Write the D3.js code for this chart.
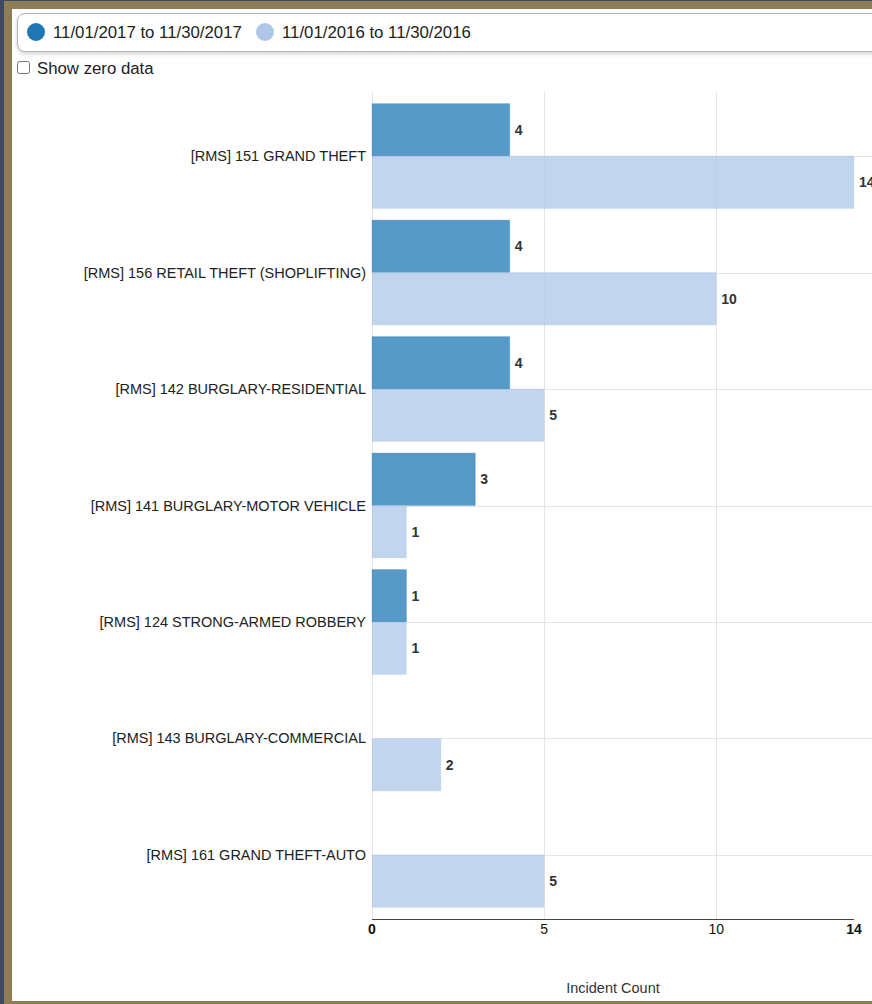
<!DOCTYPE html>
<html>
<head>
<meta charset="utf-8">
<script src="https://cdn.jsdelivr.net/npm/d3@7"></script>
<style>
  html, body { margin: 0; padding: 0; background: #fff; overflow: hidden; }
  body { width: 872px; height: 1004px; position: relative; font-family: "Liberation Sans", Arial, sans-serif; }
  #legendBox {
    position: absolute; left: 17px; top: 13px; width: 900px; height: 37px;
    border: 1px solid #b4b4b4; border-radius: 8px; background: #fff;
    box-shadow: 0 2px 4px rgba(0,0,0,0.18);
  }
  #zero { position: absolute; left: 17px; top: 61px; margin: 0; width: 13px; height: 13px; }
  #zeroLabel { position: absolute; left: 37px; top: 59px; font-size: 16.8px; color: #222; line-height: 20px; }
  svg { position: absolute; left: 0; top: 0; }
</style>
</head>
<body>
<div id="legendBox"></div>
<input type="checkbox" id="zero"><label id="zeroLabel" for="zero">Show zero data</label>
<svg id="chart" width="872" height="1004"></svg>
<script>
// ---- data ----
const categories = [
  "[RMS] 151 GRAND THEFT",
  "[RMS] 156 RETAIL THEFT (SHOPLIFTING)",
  "[RMS] 142 BURGLARY-RESIDENTIAL",
  "[RMS] 141 BURGLARY-MOTOR VEHICLE",
  "[RMS] 124 STRONG-ARMED ROBBERY",
  "[RMS] 143 BURGLARY-COMMERCIAL",
  "[RMS] 161 GRAND THEFT-AUTO"
];
const seriesNames = ["11/01/2017 to 11/30/2017", "11/01/2016 to 11/30/2016"];
const seriesColors = ["#1f77b4", "#aec7e8"];
const current2017 = [4, 4, 4, 3, 1, 0, 0];
const previous2016 = [14, 10, 5, 1, 1, 2, 5];
const xTickValues = [0, 5, 10];
const xMax = 14;
const xAxisTitle = "Incident Count";

const seriesValues = [current2017, previous2016];

const svg = d3.select("#chart");

// ---- frame ----
svg.append("rect").attr("x", 0).attr("y", 0).attr("width", 4).attr("height", 1004).attr("fill", "#3d4b62");
svg.append("rect").attr("x", 0).attr("y", 0).attr("width", 872).attr("height", 1).attr("fill", "#3d4b62");
svg.append("rect").attr("x", 4).attr("y", 1).attr("width", 8).attr("height", 1003).attr("fill", "#8e7c54");
svg.append("rect").attr("x", 4).attr("y", 1).attr("width", 868).attr("height", 8).attr("fill", "#8e7c54");
svg.append("rect").attr("x", 4).attr("y", 1001).attr("width", 868).attr("height", 3).attr("fill", "#8e7c54");

// ---- legend ----
const legend = svg.append("g");
const legX = [36, 265];
seriesNames.forEach((name, i) => {
  legend.append("circle").attr("cx", legX[i]).attr("cy", 32).attr("r", 9)
    .attr("fill", seriesColors[i]);
  legend.append("text").attr("x", legX[i] + 17).attr("y", 38)
    .attr("font-size", "16.8px").attr("fill", "#222").text(name);
});

// ---- scales ----
const x = d3.scaleLinear().domain([0, xMax]).range([372, 854]);
const y = d3.scaleBand().domain(categories).range([92, 919]).paddingInner(0.1).paddingOuter(0.1);
const ys = d3.scaleBand().domain(d3.range(seriesNames.length)).range([0, y.bandwidth()]);

const grid = svg.append("g");
// horizontal grid lines at category centers
grid.selectAll("line.h").data(categories).join("line")
  .attr("x1", x(0)).attr("x2", 872)
  .attr("y1", d => Math.round(y(d) + y.bandwidth() / 2) + 0.5)
  .attr("y2", d => Math.round(y(d) + y.bandwidth() / 2) + 0.5)
  .attr("stroke", "#e5e5e5").attr("stroke-width", 1);
// vertical grid lines
grid.selectAll("line.v").data(xTickValues).join("line")
  .attr("x1", d => Math.round(x(d)) + 0.5).attr("x2", d => Math.round(x(d)) + 0.5)
  .attr("y1", 92).attr("y2", 919)
  .attr("stroke", "#e5e5e5").attr("stroke-width", 1);

// ---- bars ----
const rows = [];
categories.forEach((c, ci) => {
  seriesValues.forEach((vals, si) => {
    if (vals[ci] > 0) rows.push({ cat: c, s: si, v: vals[ci] });
  });
});

const bars = svg.append("g");
bars.selectAll("rect").data(rows).join("rect")
  .attr("x", x(0))
  .attr("y", d => y(d.cat) + ys(d.s))
  .attr("width", d => x(d.v) - x(0))
  .attr("height", ys.bandwidth())
  .attr("fill", d => seriesColors[d.s])
  .attr("fill-opacity", 0.75)
  .attr("stroke", d => seriesColors[d.s])
  .attr("stroke-opacity", 0.25);

bars.selectAll("text").data(rows).join("text")
  .attr("x", d => x(d.v) + 5)
  .attr("y", d => y(d.cat) + ys(d.s) + ys.bandwidth() / 2 + 5)
  .attr("font-size", "14px").attr("font-weight", "bold").attr("fill", "#333")
  .text(d => d.v);

// ---- category labels ----
svg.append("g").selectAll("text").data(categories).join("text")
  .attr("x", 366)
  .attr("y", d => y(d) + y.bandwidth() / 2 + 5)
  .attr("text-anchor", "end")
  .attr("font-size", "14.5px").attr("fill", "#222")
  .text(d => d);

// ---- x axis ----
const xAxis = svg.append("g").attr("transform", "translate(0,919)");
xAxis.append("line").attr("x1", x(0)).attr("x2", x(xMax)).attr("y1", 0.5).attr("y2", 0.5)
  .attr("stroke", "#444").attr("stroke-width", 1.2);
const tickLabels = xTickValues.concat([xMax]);
xAxis.selectAll("text").data(tickLabels).join("text")
  .attr("x", d => x(d)).attr("y", 15)
  .attr("text-anchor", "middle").attr("font-size", "14px")
  .attr("font-weight", d => (d === 0 || d === xMax) ? "bold" : "normal")
  .attr("fill", "#111")
  .text(d => d);

svg.append("text").attr("x", (x(0) + x(xMax)) / 2).attr("y", 993)
  .attr("text-anchor", "middle").attr("font-size", "14.5px").attr("fill", "#333")
  .text(xAxisTitle);
</script>
</body>
</html>
